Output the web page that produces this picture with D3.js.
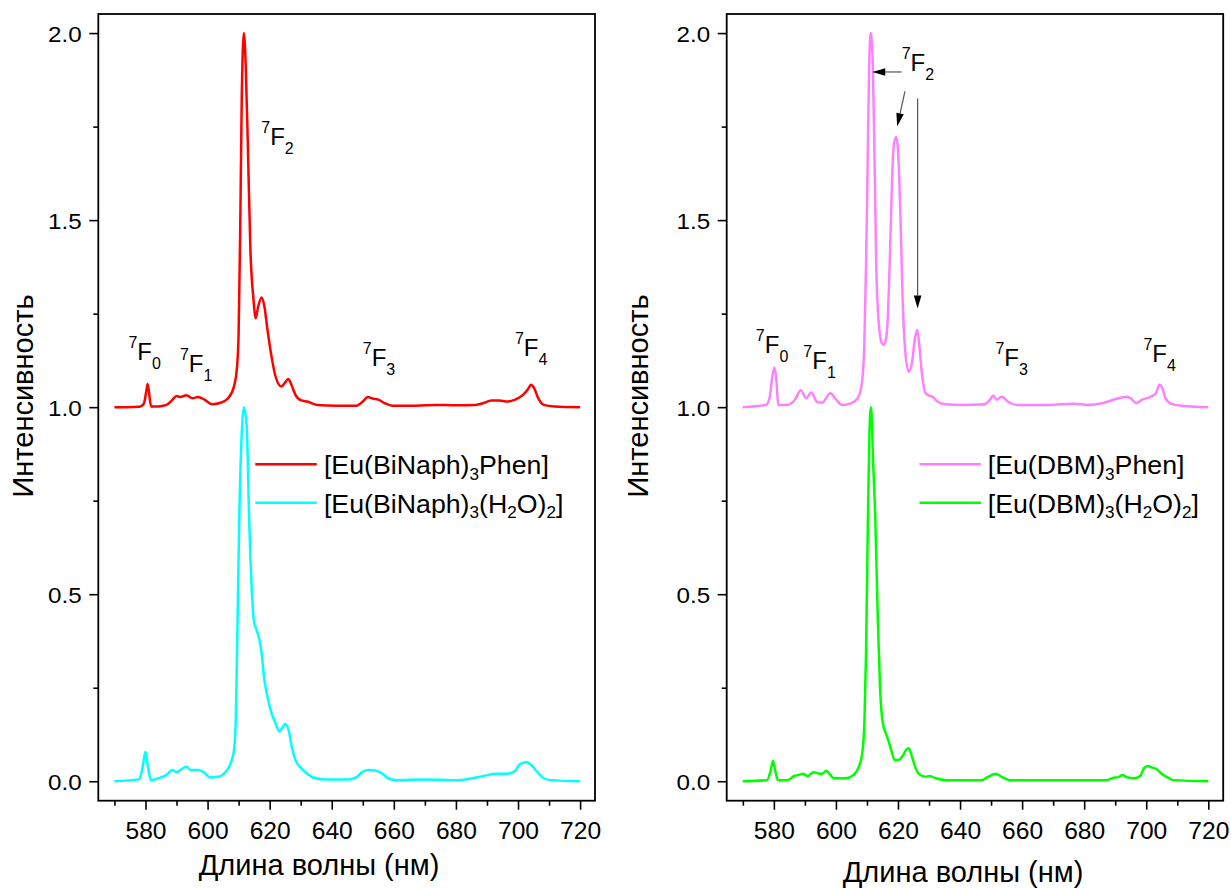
<!DOCTYPE html>
<html>
<head>
<meta charset="utf-8">
<script src="https://cdn.jsdelivr.net/npm/d3@7"></script>
<style>
  html, body { margin: 0; padding: 0; background: #fff; }
  svg { display: block; font-family: Arial, "Liberation Sans", sans-serif; }
</style>
</head>
<body>
<svg id="chart" width="1231" height="888"></svg>
<script>
// ---- Emission spectra, [wavelength nm, normalised intensity] ----
const euBiNaphPhen = [[570,1.000],[574,1.000],[578,1.001],[579.5,1.010],[580.2,1.040],[580.7,1.062],[581.2,1.035],[581.8,1.002],[584,1.002],[586.8,1.006],[588.5,1.018],[590,1.030],[591.2,1.027],[593.2,1.032],[595.1,1.024],[597,1.027],[599,1.020],[601.5,1.008],[604,1.011],[606.6,1.024],[608.5,1.055],[609.5,1.109],[610,1.198],[610.5,1.465],[611,1.82],[611.7,2.0],[612.3,1.91],[613,1.69],[613.8,1.42],[614.8,1.287],[615.5,1.238],[616.3,1.269],[617.4,1.293],[618.3,1.269],[619.3,1.207],[620.6,1.135],[621.9,1.082],[623.8,1.055],[624.8,1.064],[626,1.075],[627,1.06],[628.3,1.033],[630.2,1.018],[632.1,1.015],[635.3,1.006],[641.7,1.004],[648,1.004],[650,1.015],[651.6,1.027],[653.2,1.023],[655,1.02],[657,1.011],[659.5,1.004],[667.2,1.004],[673.6,1.006],[680,1.005],[686.3,1.006],[688.9,1.011],[691.4,1.018],[694,1.018],[696.5,1.015],[699.1,1.02],[701.6,1.033],[703.2,1.048],[704.2,1.06],[705.2,1.051],[706.5,1.024],[708.3,1.006],[711.8,1.002],[720,1.0]];

const euBiNaphH2O = [[570,0.0],[577.9,0.005],[579.1,0.039],[580,0.079],[580.8,0.039],[581.7,0.003],[584.2,0.008],[586.8,0.017],[588.7,0.03],[590,0.024],[591.6,0.032],[593.2,0.039],[594.5,0.03],[597,0.03],[599,0.023],[600.8,0.01],[603.4,0.012],[605.9,0.026],[607.8,0.057],[608.6,0.09],[609.1,0.17],[609.6,0.4],[610.2,0.7],[611,0.93],[611.7,1.0],[612.6,0.95],[613.4,0.7],[614.3,0.5],[614.9,0.43],[615.8,0.404],[616.7,0.378],[617.4,0.342],[618.3,0.271],[619.3,0.226],[620.6,0.182],[621.9,0.155],[623.1,0.133],[624,0.142],[625,0.153],[626.1,0.137],[627,0.097],[628.3,0.057],[630.2,0.035],[632.1,0.02],[634,0.01],[637.8,0.005],[645.5,0.005],[648,0.011],[650,0.026],[651.9,0.03],[654.4,0.028],[656.3,0.02],[658.2,0.008],[660.8,0.003],[669.7,0.005],[680,0.003],[683.8,0.006],[688.9,0.014],[692.7,0.02],[696.5,0.02],[699.1,0.028],[700.6,0.046],[702.9,0.051],[704.2,0.044],[706.1,0.026],[708.3,0.008],[710.6,0.003],[720,0.0]];

const euDBMPhen = [[570,1.0],[577.4,1.006],[578.7,1.028],[579.5,1.082],[580.2,1.106],[580.8,1.073],[581.4,1.006],[584.3,1.006],[586.8,1.02],[588.7,1.045],[590.4,1.024],[592.1,1.039],[593.8,1.015],[595.6,1.012],[598.2,1.037],[600.1,1.02],[602,1.006],[605.1,1.011],[607,1.024],[608.2,1.055],[609.1,1.153],[609.7,1.376],[610.2,1.643],[610.7,1.91],[611.2,2.0],[611.9,1.91],[612.4,1.688],[613,1.376],[613.9,1.216],[614.8,1.171],[615.5,1.167],[616.4,1.198],[617.3,1.376],[617.9,1.554],[618.6,1.697],[619.4,1.723],[620,1.688],[620.8,1.51],[621.5,1.287],[622.4,1.144],[623.5,1.095],[624.5,1.118],[625.4,1.18],[626.2,1.207],[626.8,1.171],[627.7,1.091],[628.9,1.037],[630.2,1.03],[631.1,1.028],[632.7,1.015],[635.2,1.008],[640.9,1.006],[647.8,1.008],[649.7,1.02],[650.7,1.031],[651.9,1.02],[653.4,1.028],[655.4,1.015],[658.5,1.006],[668.5,1.006],[676.7,1.009],[681.1,1.006],[686.1,1.011],[689.9,1.021],[693.7,1.028],[694.9,1.024],[696.8,1.011],[698.7,1.02],[701.2,1.027],[703.1,1.037],[704.3,1.06],[705.2,1.051],[706.2,1.024],[708.1,1.009],[711.2,1.004],[720,1.0]];

const euDBMH2O = [[570,0.0],[577.8,0.003],[579,0.03],[579.7,0.055],[580.4,0.03],[581.3,0.003],[584.3,0.003],[586.6,0.014],[588.1,0.017],[589.4,0.02],[590.9,0.014],[592.8,0.024],[594.4,0.021],[595.6,0.02],[596.9,0.028],[598.2,0.017],[599.4,0.008],[603.2,0.008],[605.7,0.017],[607.2,0.035],[608.5,0.075],[609.2,0.164],[609.7,0.342],[610.3,0.698],[610.8,0.93],[611.3,1.0],[612,0.85],[612.7,0.698],[613.5,0.431],[614.2,0.253],[615.1,0.155],[616.1,0.128],[617,0.106],[617.8,0.084],[618.9,0.057],[620.1,0.057],[621.4,0.066],[622.6,0.084],[623.5,0.088],[624.5,0.066],[625.5,0.039],[626.8,0.019],[628.9,0.012],[630.2,0.014],[632.1,0.008],[635.8,0.003],[647.1,0.003],[649,0.012],[651.6,0.02],[653.4,0.012],[656,0.003],[668.5,0.003],[687.4,0.003],[689.2,0.009],[691.1,0.011],[692.4,0.017],[693.6,0.011],[696.1,0.008],[698,0.014],[699.3,0.035],[700.5,0.041],[701.8,0.037],[703.4,0.032],[704.9,0.02],[706.8,0.011],[708.7,0.003],[720,0.0]];

// ---- Axis ticks ----
const xMajorTicks = [580, 600, 620, 640, 660, 680, 700, 720];
const xMinorTicks = [570, 590, 610, 630, 650, 670, 690, 710];
const yMajorTicks = [0, 0.5, 1.0, 1.5, 2.0];
const yMinorTicks = [0.25, 0.75, 1.25, 1.75];

// ---- Text ----
const xTitle = "Длина волны (нм)";
const yTitle = "Интенсивность";
const legendLeft = [
  [["[Eu(BiNaph)", 0], ["3", 1], ["Phen]", 0]],
  [["[Eu(BiNaph)", 0], ["3", 1], ["(H", 0], ["2", 1], ["O)", 0], ["2", 1], ["]", 0]]
];
const legendRight = [
  [["[Eu(DBM)", 0], ["3", 1], ["Phen]", 0]],
  [["[Eu(DBM)", 0], ["3", 1], ["(H", 0], ["2", 1], ["O)", 0], ["2", 1], ["]", 0]]
];

// Transition labels: [wavelength, intensity] of label start, J index
const transLeft = [[574.5, 1.1256, "0"], [591.1, 1.0935, "1"], [617.3, 1.700, "2"], [650.0, 1.1096, "3"], [699.0, 1.136, "4"]];
const transRight = [[574.2, 1.1448, "0"], [589.5, 1.1021, "1"], [621.2, 1.8988, "2"], [651.4, 1.1096, "3"], [699.1, 1.1202, "4"]];

// Arrows pointing at the 7F2 components: [x1, y1, x2(tip), y2(tip)]
const arrowsRight = [
  [621.17, 1.896, 611.70, 1.896],
  [622.24, 1.844, 619.76, 1.751],
  [626.33, 1.825, 626.33, 1.264]
];

const xDomain = [564.8, 724.8];
const yDomain = [-0.052, 2.051];

const svg = d3.select("#chart");

// Widen text horizontally about its anchor point
function widen(sel, sx) {
  sel.each(function () {
    const t = d3.select(this);
    const tx = +t.attr("x") || 0, ty = +t.attr("y") || 0;
    const prev = t.attr("transform") || "";
    t.attr("x", 0).attr("y", 0)
      .attr("transform", `${prev} translate(${tx},${ty}) scale(${sx},1)`);
  });
}

const panels = [
  {
    left: 98.3, right: 595,
    series: [{ data: euBiNaphPhen, color: "#ff0000" }, { data: euBiNaphH2O, color: "#00ffff" }],
    legend: legendLeft, legendLine: [255.3, 316.8], legendText: 323.9,
    trans: transLeft, arrows: [],
    yTitleX: 33.3, xTitleX: 319, xTitleY: 875
  },
  {
    left: 726.7, right: 1223.2,
    series: [{ data: euDBMPhen, color: "#ff80ff" }, { data: euDBMH2O, color: "#00ff00" }],
    legend: legendRight, legendLine: [919.5, 981], legendText: 987.7,
    trans: transRight, arrows: arrowsRight,
    yTitleX: 648, xTitleX: 963, xTitleY: 882
  }
];

const frameTop = 14, frameBottom = 800.7;

panels.forEach(p => {
  const x = d3.scaleLinear().domain(xDomain).range([p.left, p.right]);
  const y = d3.scaleLinear().domain(yDomain).range([frameBottom, frameTop]);
  const g = svg.append("g");

  // spectra
  const line = d3.line().x(d => x(d[0])).y(d => y(d[1])).curve(d3.curveMonotoneX);
  p.series.forEach(s => {
    g.append("path").attr("d", line(s.data))
      .attr("fill", "none").attr("stroke", s.color)
      .attr("stroke-width", 2.5).attr("stroke-linejoin", "round");
  });

  // x axis
  const gx = g.append("g").attr("transform", `translate(0,${frameBottom})`);
  gx.call(d3.axisBottom(x).tickValues(xMajorTicks).tickSize(9).tickFormat(d3.format("d")));
  gx.append("g").call(d3.axisBottom(x).tickValues(xMinorTicks).tickSize(5).tickFormat(""));
  gx.selectAll(".domain").remove();
  gx.selectAll("line").attr("stroke", "#000").attr("stroke-width", 1.6);
  gx.selectAll("text").attr("y", 38).attr("dy", null)
    .attr("font-size", 23).attr("font-family", "Arial, 'Liberation Sans', sans-serif").attr("fill", "#000")
    .call(widen, 1.07);

  // y axis
  const gy = g.append("g").attr("transform", `translate(${p.left},0)`);
  gy.call(d3.axisLeft(y).tickValues(yMajorTicks).tickSize(9).tickFormat(d3.format(".1f")));
  gy.append("g").call(d3.axisLeft(y).tickValues(yMinorTicks).tickSize(5).tickFormat(""));
  gy.selectAll(".domain").remove();
  gy.selectAll("line").attr("stroke", "#000").attr("stroke-width", 1.6);
  gy.selectAll("text").attr("x", -16.6).attr("dy", "0.36em")
    .attr("font-size", 22).attr("font-family", "Arial, 'Liberation Sans', sans-serif").attr("fill", "#000")
    .call(widen, 1.1);

  // frame
  g.append("rect").attr("x", p.left).attr("y", frameTop)
    .attr("width", p.right - p.left).attr("height", frameBottom - frameTop)
    .attr("fill", "none").attr("stroke", "#000").attr("stroke-width", 1.8);

  // axis titles
  g.append("text").attr("x", p.xTitleX).attr("y", p.xTitleY)
    .attr("text-anchor", "middle").attr("font-size", 29).text(xTitle);
  g.append("text").attr("transform", `translate(${p.yTitleX},396) rotate(-90)`)
    .attr("text-anchor", "middle").attr("font-size", 29).text(yTitle);

  // legend
  const legY = [464.3, 502.7];
  p.legend.forEach((parts, i) => {
    g.append("line").attr("x1", p.legendLine[0]).attr("x2", p.legendLine[1])
      .attr("y1", legY[i]).attr("y2", legY[i])
      .attr("stroke", p.series[i].color).attr("stroke-width", 2.5);
    const t = g.append("text").attr("x", p.legendText).attr("y", legY[i] + 10)
      .attr("font-size", 25).attr("fill", "#000");
    let level = 0;
    parts.forEach(([s, sub]) => {
      const shift = (sub - level) * 5.5;
      level = sub;
      t.append("tspan").attr("dy", shift).attr("font-size", sub ? 16 : 25).text(s);
    });
    t.call(widen, 1.07);
  });

  // transition labels 7F_J
  p.trans.forEach(([nm, v, j]) => {
    const t = g.append("text").attr("x", x(nm)).attr("y", y(v)).attr("fill", "#000");
    t.append("tspan").attr("font-size", 16).attr("dy", -12).text("7");
    t.append("tspan").attr("font-size", 24).attr("dy", 12).text("F");
    t.append("tspan").attr("font-size", 16).attr("dy", 9).text(j);
  });

  // arrows
  p.arrows.forEach(([x1, y1, x2, y2]) => {
    const ax1 = x(x1), ay1 = y(y1), ax2 = x(x2), ay2 = y(y2);
    const ang = Math.atan2(ay2 - ay1, ax2 - ax1);
    const len = 13, hw = 3.8;
    const bx = ax2 - len * Math.cos(ang), by = ay2 - len * Math.sin(ang);
    g.append("line").attr("x1", ax1).attr("y1", ay1).attr("x2", bx).attr("y2", by)
      .attr("stroke", "#555").attr("stroke-width", 1.2);
    const px = -Math.sin(ang) * hw, py = Math.cos(ang) * hw;
    g.append("path")
      .attr("d", `M${ax2},${ay2}L${bx + px},${by + py}L${bx - px},${by - py}Z`)
      .attr("fill", "#000");
  });
});
</script>
</body>
</html>
